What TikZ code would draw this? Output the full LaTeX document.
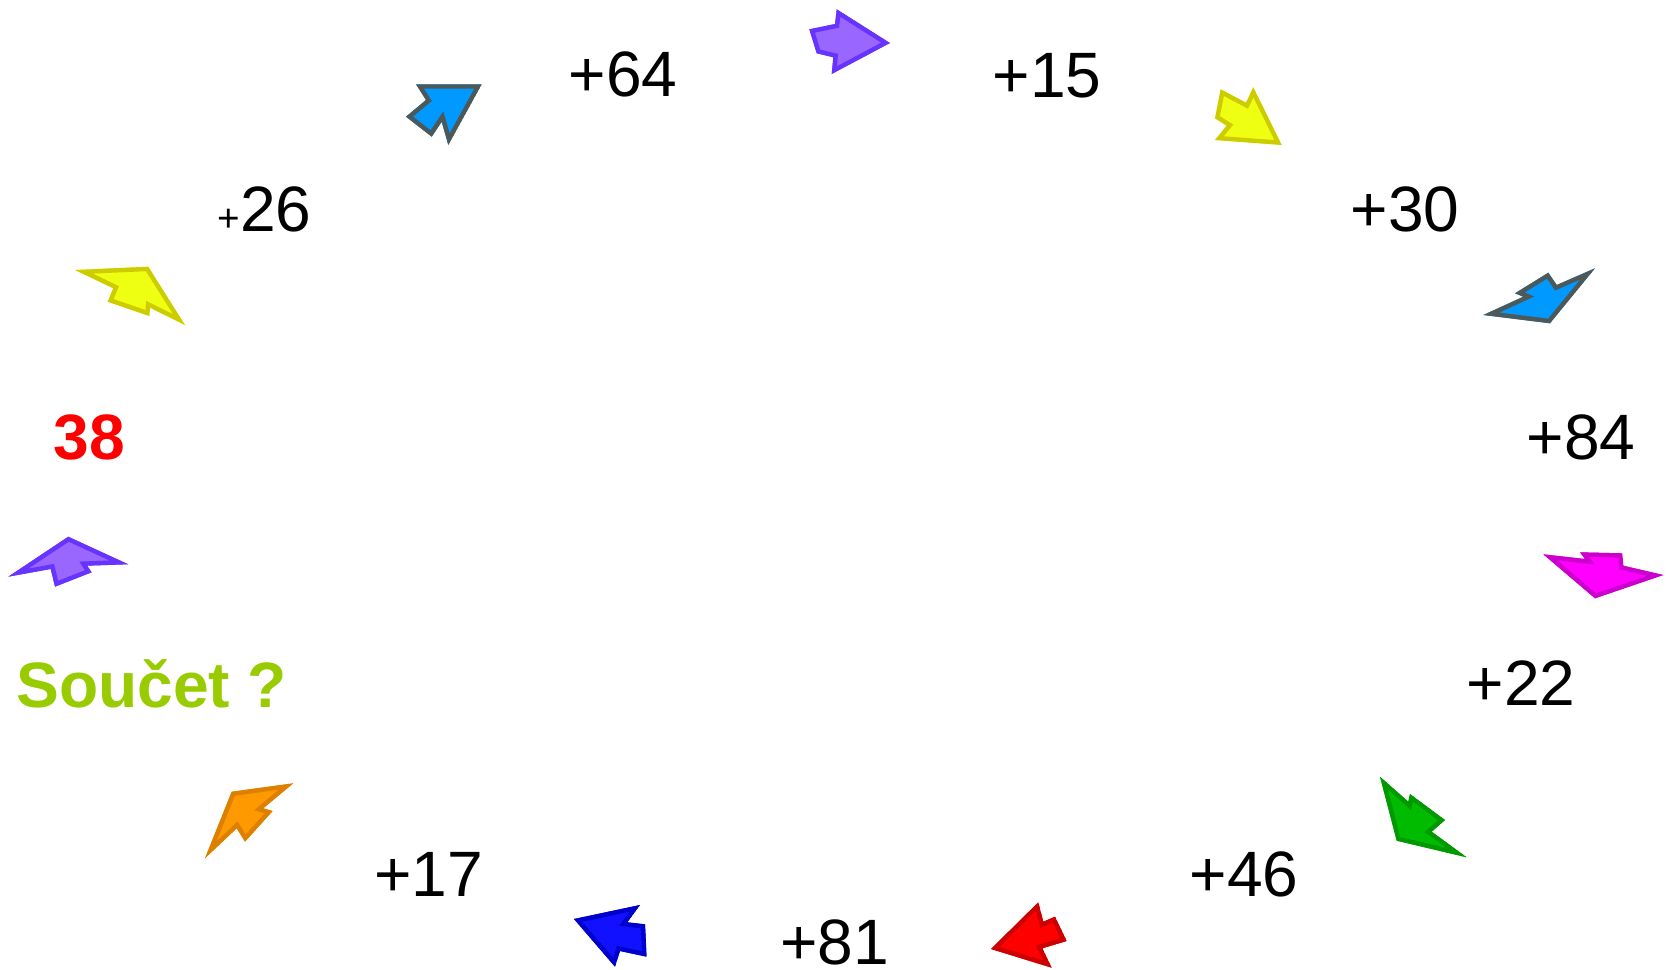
\documentclass[tikz,border=0pt]{standalone}
\usepackage{fontspec}
\setmainfont{Liberation Sans}
\definecolor{purF}{HTML}{9966FF}\definecolor{purD}{HTML}{6633FF}
\definecolor{bluF}{HTML}{0099FF}\definecolor{bluD}{HTML}{4D5959}
\definecolor{yelF}{HTML}{EEFF11}\definecolor{yelD}{HTML}{CCCC00}
\definecolor{magF}{HTML}{FF00FF}\definecolor{magD}{HTML}{CC00CC}
\definecolor{oraF}{HTML}{FF9900}\definecolor{oraD}{HTML}{DD8000}
\definecolor{greF}{HTML}{00BB00}\definecolor{greD}{HTML}{009900}
\definecolor{dblF}{HTML}{1111FF}\definecolor{dblD}{HTML}{0000CC}
\definecolor{redF}{HTML}{FF0000}\definecolor{redD}{HTML}{CC0000}
\definecolor{soucet}{HTML}{99CC00}
\tikzset{
  num/.style={font=\fontsize{36.5}{44}\selectfont,inner sep=0pt},
  numb/.style={font=\fontsize{36.5}{44}\selectfont\bfseries,inner sep=0pt},
}
\newcommand\myarrow[3]{\begin{scope}\clip #3; \fill[#1] #3; \draw[#2,line width=5pt,line join=miter] #3;\end{scope}}
\begin{document}
\begin{tikzpicture}[x=0.02cm,y=-0.02cm]
\useasboundingbox (0,0) rectangle (1667,970);
% arrows
\myarrow{purF}{purD}{(890,43) -- (836.7,9.3) -- (835,24) -- (809.3,29.3) -- (816.7,53.3) -- (833.3,57.3) -- (831.7,74) -- cycle}
\myarrow{bluF}{bluD}{(416,84.3) -- (426,100) -- (406,116.7) -- (431.7,136.7) -- (441.7,121.7) -- (448.3,145) -- (481.7,84.3) -- cycle}
\myarrow{yelF}{yelD}{(1220.7,89.3) -- (1246,102.7) -- (1253.3,87.3) -- (1281.7,145) -- (1215,140) -- (1226.7,125.7) -- (1215,118.3) -- cycle}
\myarrow{yelF}{yelD}{(75,270) -- (148.3,266.7) -- (185,325) -- (150,307.7) -- (149.3,316) -- (107.7,301.7) -- (113.3,288.3) -- cycle}
\myarrow{bluF}{bluD}{(1483.3,315) -- (1523.3,296.7) -- (1515,293.3) -- (1548.3,272.7) -- (1556.7,285) -- (1595,268.3) -- (1550,323.3) -- cycle}
\myarrow{purF}{purD}{(8.3,576.7) -- (68.3,536.7) -- (128.3,564.3) -- (87.3,565.7) -- (91.7,572.3) -- (55,586.7) -- (50.7,569) -- cycle}
\myarrow{magF}{magD}{(1543.3,554.3) -- (1585,559) -- (1580,552.3) -- (1622.3,553.3) -- (1623.3,565.7) -- (1663.3,575) -- (1595,598.3) -- cycle}
\myarrow{oraF}{oraD}{(231.7,791.7) -- (293.3,783.3) -- (263.3,808.3) -- (272.7,811) -- (245,841.7) -- (236.7,828.3) -- (205,858.3) -- cycle}
\myarrow{greF}{greD}{(1380,776.7) -- (1408.3,801.7) -- (1410,794) -- (1445,820) -- (1431.7,831.7) -- (1466.7,857.3) -- (1396.7,840.7) -- cycle}
\myarrow{dblF}{dblD}{(574,919) -- (640,905) -- (627.3,922.3) -- (645,924.3) -- (646.7,956.7) -- (620,951) -- (615,966.7) -- cycle}
\myarrow{redF}{redD}{(991,949) -- (1038.3,902.3) -- (1043.3,921.7) -- (1055,916.7) -- (1066.7,941) -- (1042.3,948.3) -- (1051.7,967.7) -- cycle}
% texts
\node[num] (t64) at (623,74.4) {+64};
\node[num] (t15) at (1047,75.5) {+15};
\node[num] (t30) at (1405,209.4) {+30};
\node[num] (t26) at (276,209.4) {26};
\node[font=\fontsize{22}{26}\selectfont,inner sep=0pt] (t26p) at (229,220) {+};
\node[numb,text=red] (t38) at (89.3,437) {38};
\node[num] (t84) at (1581,437) {+84};
\node[numb,text=soucet,anchor=west] (ts) at (16,683.6) {Součet ?};
\node[num] (t22) at (1521,683.6) {+22};
\node[num] (t17) at (428.4,874) {+17};
\node[num] (t46) at (1244,874) {+46};
\node[num] (t81) at (834.5,942) {+81};
\end{tikzpicture}
\end{document}
